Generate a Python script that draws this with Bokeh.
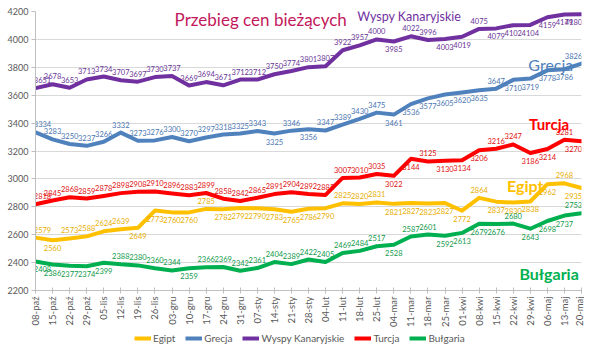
from math import pi
from bokeh.plotting import figure
from bokeh.layouts import column
from bokeh.models import Range1d, FixedTicker, Label, Legend, LegendItem, ColumnDataSource
from bokeh.core.properties import value
from bokeh.embed import file_html
from bokeh.resources import INLINE

dates = ["08-paź", "15-paź", "22-paź", "29-paź", "05-lis", "12-lis", "19-lis", "26-lis",
         "03-gru", "10-gru", "17-gru", "24-gru", "31-gru", "07-sty", "14-sty", "21-sty",
         "28-sty", "04-lut", "11-lut", "18-lut", "25-lut", "04-mar", "11-mar", "18-mar",
         "25-mar", "01-kwi", "08-kwi", "15-kwi", "22-kwi", "29-kwi", "06-maj", "13-maj", "20-maj"]

egipt = [2579, 2560, 2573, 2588, 2624, 2639, 2649, 2773, 2760, 2760, 2785, 2782, 2792, 2790,
         2783, 2765, 2786, 2790, 2825, 2820, 2831, 2821, 2827, 2823, 2827, 2772, 2864, 2837,
         2830, 2838, 2962, 2968, 2935]
grecja = [3334, 3283, 3250, 3237, 3266, 3332, 3273, 3276, 3300, 3270, 3297, 3318, 3325, 3343,
          3325, 3346, 3356, 3347, 3389, 3430, 3475, 3461, 3536, 3577, 3605, 3620, 3635, 3647,
          3710, 3719, 3778, 3786, 3826]
wyspy = [3651, 3678, 3653, 3713, 3734, 3707, 3697, 3730, 3737, 3669, 3694, 3671, 3712, 3712,
         3750, 3774, 3801, 3807, 3922, 3957, 4000, 3985, 4022, 3996, 4003, 4019, 4075, 4079,
         4102, 4104, 4159, 4179, 4180]
turcja = [2818, 2845, 2868, 2859, 2878, 2898, 2908, 2910, 2896, 2883, 2899, 2858, 2842, 2865,
          2891, 2904, 2892, 2885, 3007, 3010, 3035, 3022, 3144, 3125, 3130, 3134, 3206, 3216,
          3247, 3186, 3214, 3281, 3270]
bulgaria = [2408, 2386, 2377, 2374, 2399, 2388, 2380, 2360, 2344, 2359, 2366, 2369, 2342, 2361,
            2404, 2389, 2422, 2405, 2469, 2484, 2517, 2528, 2587, 2601, 2592, 2613, 2679, 2676,
            2680, 2643, 2698, 2737, 2753]

names = ["Egipt", "Grecja", "Wyspy Kanaryjskie", "Turcja", "Bułgaria"]
y_ticks = [2200, 2400, 2600, 2800, 3000, 3200, 3400, 3600, 3800, 4000, 4200]

# styling: line colour, label colour, label placement (a = above, b = below)
colors = ["#FFC000", "#4F81BD", "#7030A0", "#FF0000", "#00B050"]
lab_colors = ["#E8AE00", "#4A76B0", "#6A3596", "#E01010", "#109A4A"]
place = [
    "abaaaabbbbabbbbbbbaaabbbbbabbbbab",
    "aaaaaaaaaaaaaababaaaabbbbbbabbbba",
    "aaaaaaaaaaaaaaaaaaaaabaabbabbbbbb",
    "aaaaaaaaaaaaaaaaaaaaabbabbbaabbab",
    "bbbbbaaaabaaaaaaaaaaabaabbbbabbba",
]
series = [egipt, grecja, wyspy, turcja, bulgaria]

FONT = "Lato"
n = len(dates)

p = figure(width=584, height=332, output_backend="svg", toolbar_location=None,
           x_range=Range1d(0, n - 1), y_range=Range1d(y_ticks[0], y_ticks[-1]),
           min_border_left=35, min_border_right=3, min_border_top=11, min_border_bottom=42)
p.outline_line_color = None
p.background_fill_color = "white"
p.border_fill_color = "white"

p.xgrid.grid_line_color = None
p.ygrid.grid_line_color = "#D9D9D9"
p.ygrid.ticker = FixedTicker(ticks=y_ticks)

p.yaxis.ticker = FixedTicker(ticks=y_ticks)
p.yaxis.major_label_text_font = FONT
p.yaxis.major_label_text_font_size = "9px"
p.yaxis.major_label_text_color = "#595959"
p.yaxis.major_label_standoff = 3
p.yaxis.major_tick_out = 4
p.yaxis.major_tick_in = 0
p.yaxis.minor_tick_line_color = None
p.yaxis.axis_line_color = "#BFBFBF"
p.yaxis.major_tick_line_color = "#BFBFBF"

p.xaxis.ticker = FixedTicker(ticks=list(range(n)))
p.xaxis.major_label_overrides = {i: d for i, d in enumerate(dates)}
p.xaxis.major_label_orientation = pi / 2
p.xaxis.major_label_text_font = FONT
p.xaxis.major_label_text_font_size = "9.5px"
p.xaxis.major_label_text_color = "#595959"
p.xaxis.major_label_standoff = 3
p.xaxis.major_tick_out = 3
p.xaxis.major_tick_in = 3
p.xaxis.minor_tick_line_color = None
p.xaxis.axis_line_color = "#BFBFBF"
p.xaxis.major_tick_line_color = "#BFBFBF"

idx = list(range(n))
for vals, col in zip(series, colors):
    p.line(idx, vals, line_color=col, line_width=4, line_join="round", line_cap="round")

for vals, lcol, pl in zip(series, lab_colors, place):
    xoff = [7 if i == 0 else (-8 if i == n - 1 else 0) for i in idx]
    src = ColumnDataSource(dict(x=idx, y=vals, t=[str(v) for v in vals],
                                off=[-8 if c == "a" else 8 for c in pl], xo=xoff))
    p.text(x="x", y="y", text="t", source=src, y_offset="off", x_offset="xo",
           text_align="center", text_baseline="middle", text_font=value(FONT),
           text_font_size="7.5px", text_color=lcol)

# chart annotations
p.add_layout(Label(x=13.2, y=4143, text="Przebieg cen bieżących", text_align="center",
                   text_baseline="middle", text_font=FONT, text_font_size="17px",
                   text_color="#C2185B"))
ann = [("Wyspy Kanaryjskie", 21.9, 4164, "normal", "12.5px", colors[2]),
       ("Grecja", 30.2, 3820, "normal", "16px", colors[1]),
       ("Turcja", 30.1, 3390, "bold", "15px", colors[3]),
       ("Egipt", 28.7, 2953, "bold", "16px", colors[0]),
       ("Bułgaria", 30.1, 2322, "bold", "16px", colors[4])]
for txt, ax, ay, fw, fs, col in ann:
    p.add_layout(Label(x=ax, y=ay, text=txt, text_align="center", text_baseline="middle",
                       text_font=FONT, text_font_size=fs, text_font_style=fw, text_color=col))

# legend strip below the chart (its lines lie outside its own range, only the keys show)
lg = figure(width=584, height=12, output_backend="svg", toolbar_location=None,
            x_range=Range1d(0, 1), y_range=Range1d(0, 1),
            min_border_left=0, min_border_right=0, min_border_top=0, min_border_bottom=0)
lg.axis.visible = False
lg.grid.grid_line_color = None
lg.outline_line_color = None
items = []
for name, vals, col in zip(names, series, colors):
    r = lg.line(idx, vals, line_color=col, line_width=4)
    items.append(LegendItem(label=name, renderers=[r]))
legend = Legend(items=items, orientation="horizontal", location=(99, 0),
                label_text_font=FONT, label_text_font_size="10px", label_text_color="#595959",
                glyph_width=17, glyph_height=12, label_height=12, label_standoff=2,
                spacing=10, padding=0, margin=0, border_line_color=None,
                background_fill_alpha=0)
lg.add_layout(legend)

open("out.html", "w").write(file_html(column(p, lg, spacing=0), INLINE))
